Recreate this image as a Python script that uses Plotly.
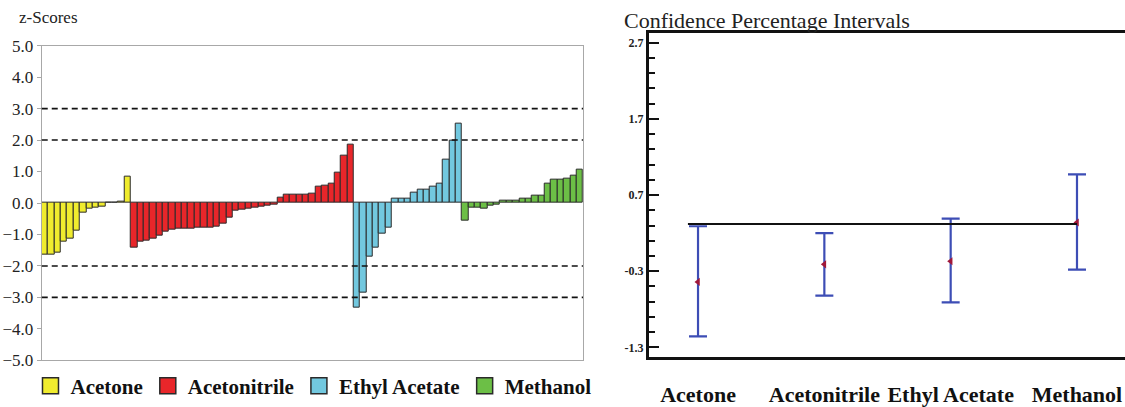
import numpy as np
import plotly.graph_objects as go

# ---------------- data ----------------
groups = ["Acetone", "Acetonitrile", "Ethyl Acetate", "Methanol"]
acetone = [-1.65, -1.65, -1.58, -1.23, -1.13, -0.89, -0.32, -0.18, -0.14, -0.10, 0.0, 0.02, 0.05, 0.85]
acetonitrile = [-1.42, -1.24, -1.19, -1.14, -1.03, -0.90, -0.85, -0.83, -0.82, -0.80,
                -0.79, -0.78, -0.77, -0.74, -0.67, -0.48, -0.24, -0.22, -0.19, -0.16,
                -0.10, -0.07, -0.04, 0.16, 0.25, 0.25, 0.25, 0.25, 0.30, 0.53,
                0.55, 0.60, 0.97, 1.51, 1.86]
ethyl_acetate = [-3.32, -2.85, -1.71, -1.43, -0.98, -0.79, 0.13, 0.13, 0.13, 0.32,
                 0.42, 0.43, 0.53, 0.63, 1.37, 1.97, 2.51]
methanol = [-0.56, -0.14, -0.14, -0.17, -0.08, -0.06, 0.07, 0.07, 0.07, 0.13,
            0.13, 0.23, 0.23, 0.60, 0.73, 0.75, 0.76, 0.86, 1.07]
z_limits = [3.0, 2.0, -2.0, -3.0]
z_ticks = [-5, -4, -3, -2, -1, 0, 1, 2, 3, 4, 5]

ci_cats = ["Acetone", "Acetonitrile", "Ethyl Acetate", "Methanol"]
ci_mean = [-0.44, -0.21, -0.17, 0.34]
ci_low = [-1.155, -0.62, -0.71, -0.28]
ci_high = [0.29, 0.20, 0.39, 0.97]
ci_ref = 0.32
ci_ticks = [-1.3, -0.3, 0.7, 1.7, 2.7]

colors = ["#f0ec2e", "#e8262a", "#72c8df", "#6cbf46"]
SERIF = "Liberation Serif"

fig = go.Figure()

# ---------------- left: z-scores ----------------
series = [acetone, acetonitrile, ethyl_acetate, methanol]
start = 0
for name, vals, col in zip(groups, series, colors):
    xs = np.arange(start, start + len(vals))
    start += len(vals)
    fig.add_trace(go.Bar(x=xs, y=vals, marker=dict(color=col, line=dict(color="#2a2a2a", width=1)),
                         width=1.0, showlegend=False, xaxis="x", yaxis="y", name=name))
n_total = start

for name, col in zip(groups, colors):
    fig.add_trace(go.Scatter(x=[None], y=[None], mode="markers", name=name,
                             marker=dict(symbol="square", size=16, color=col,
                                         line=dict(color="#2a2a2a", width=1.5)),
                             xaxis="x", yaxis="y", showlegend=True))

for lv in z_limits:
    fig.add_shape(type="line", xref="x domain", yref="y", x0=0, x1=1, y0=lv, y1=lv,
                  line=dict(color="#111111", width=1.6, dash="6px,4px"))

# ---------------- right: confidence intervals ----------------
fig.add_shape(type="line", xref="x2", yref="y2", x0=-0.08, x1=3.0, y0=ci_ref, y1=ci_ref,
              line=dict(color="#111111", width=1.8))

fig.add_trace(go.Scatter(
    x=ci_cats, y=ci_mean, mode="markers", xaxis="x2", yaxis="y2", showlegend=False,
    marker=dict(symbol="triangle-left", size=7, color="#a0183a"),
    error_y=dict(type="data", symmetric=False,
                 array=[h - m for h, m in zip(ci_high, ci_mean)],
                 arrayminus=[m - l for m, l in zip(ci_mean, ci_low)],
                 color="#3d4db5", thickness=2.2, width=9),
))

fig.update_layout(
    width=1125, height=407, autosize=False,
    margin=dict(l=0, r=0, t=0, b=0),
    paper_bgcolor="white", plot_bgcolor="white",
    barmode="overlay", bargap=0,
    font=dict(family=SERIF, color="#1a1a1a"),
    xaxis=dict(domain=[0.0371, 0.5182], anchor="y", range=[-0.5, n_total - 0.5],
               showticklabels=False, ticks="", showgrid=False, zeroline=False, automargin=False,
               showline=True, mirror=True, linecolor="#a8a8a8", linewidth=1.2),
    yaxis=dict(domain=[0.108, 0.887], anchor="x", range=[-5, 5], tickvals=z_ticks,
               tickformat=".1f", ticks="outside", ticklen=4, tickcolor="#a8a8a8",
               showgrid=False, zeroline=False, showline=True, mirror=True, automargin=False,
               linecolor="#a8a8a8", linewidth=1.2, tickfont=dict(size=17, family=SERIF, color="#222")),
    xaxis2=dict(domain=[0.5769, 1.0], anchor="y2", type="category",
                range=[-0.388, 3.38], ticks="", showgrid=False, zeroline=False,
                showline=True, mirror=True, linecolor="#111", linewidth=3, automargin=False,
                ticklabelstandoff=15,
                tickfont=dict(size=22, family=SERIF, weight="bold", color="#111")),
    yaxis2=dict(domain=[0.1155, 0.919], anchor="x2", range=[-1.43, 2.83],
                tickvals=ci_ticks, ticktext=[f"{v:.1f}" for v in ci_ticks],
                ticks="inside", ticklen=10, tickwidth=2, tickcolor="#111",
                minor=dict(dtick=0.2, tick0=-1.3, ticks="inside", ticklen=6,
                           tickwidth=2, tickcolor="#111"),
                showgrid=False, zeroline=False, showline=True, mirror=False, automargin=False,
                linecolor="#111", linewidth=3,
                tickfont=dict(size=12, family=SERIF, weight="bold", color="#222")),
    legend=dict(orientation="h", x=0.0271, xanchor="left", y=0.0442, yanchor="middle",
                bgcolor="rgba(0,0,0,0)", borderwidth=0,
                font=dict(size=21, family=SERIF, weight="bold", color="#111"),
                itemclick=False, tracegroupgap=0),
    annotations=[
        dict(text="z-Scores", xref="paper", yref="paper", x=0.0151, y=0.956,
             xanchor="left", yanchor="middle", showarrow=False,
             font=dict(size=17, family=SERIF, color="#222")),
        dict(text="Confidence Percentage Intervals", xref="paper", yref="paper",
             x=0.5529, y=0.985, xanchor="left", yanchor="top", showarrow=False,
             font=dict(size=22, family=SERIF, color="#222")),
    ],
)

fig.write_html("out.html", config={"displayModeBar": False},
               post_script="document.body.style.margin='0';document.body.style.overflow='hidden';")
